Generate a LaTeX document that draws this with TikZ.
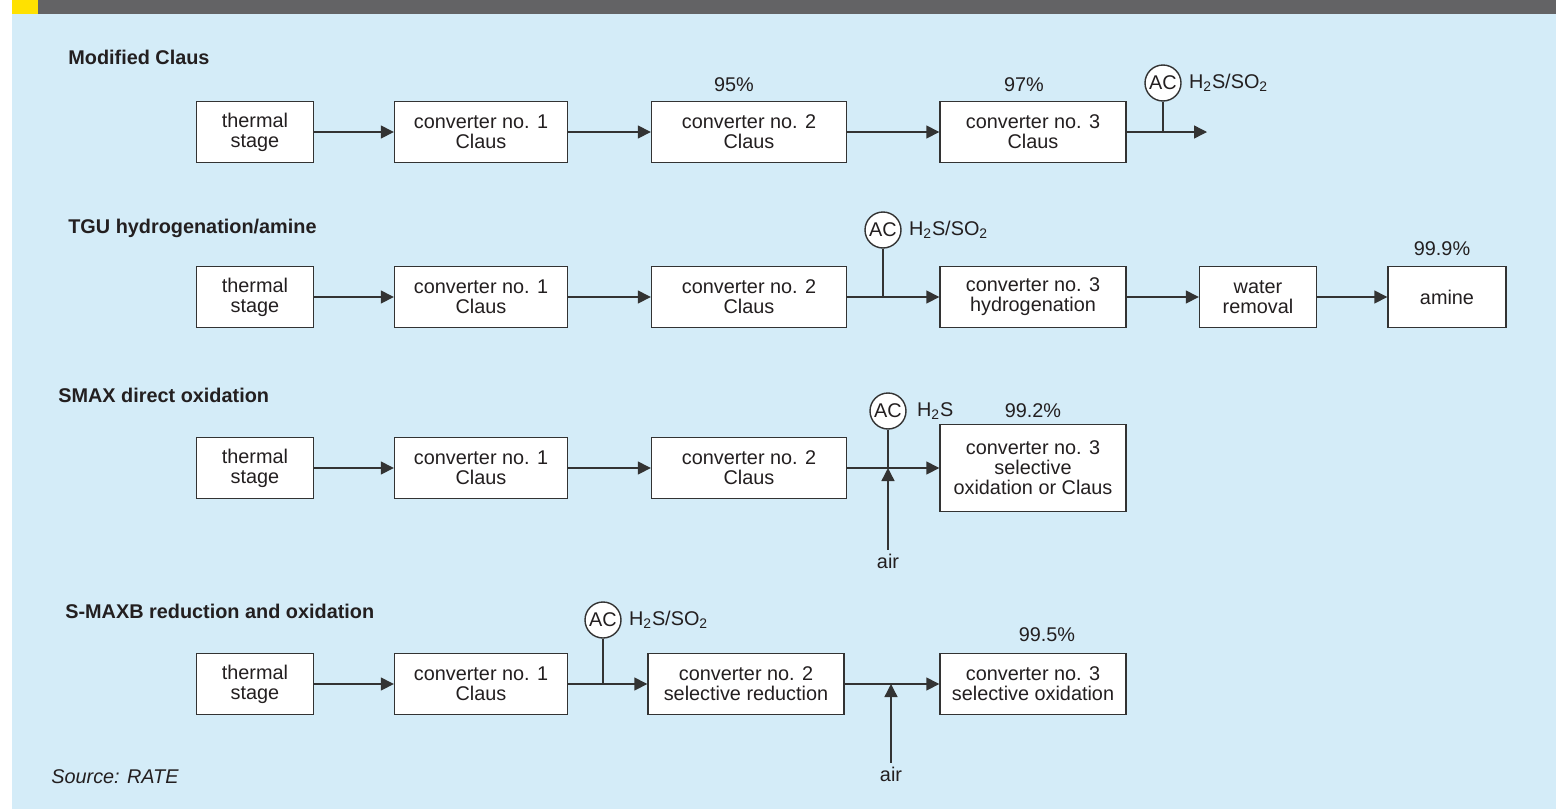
\documentclass[tikz,border=0pt]{standalone}
\usepackage{fontspec}
\setmainfont{Liberation Sans}
\usepackage{tikz}
\usetikzlibrary{arrows.meta,positioning}

\definecolor{bgblue}{HTML}{D4ECF8}
\definecolor{bargray}{HTML}{636365}
\definecolor{baryellow}{HTML}{FFE100}
\definecolor{linec}{HTML}{333333}
\definecolor{textc}{HTML}{231F20}

\newcommand{\boxfont}{\fontsize{11.3}{11.4}\selectfont}
\newcommand{\gas}[1]{H\textsubscript{2}S#1}

\tikzset{
	unit/.style={draw=linec, fill=white, line width=0.8pt, minimum width=#1,
		minimum height=1.22cm, inner sep=0pt, align=center, font=\boxfont, text=textc},
	ctl/.style={circle, draw=linec, fill=white, line width=0.8pt, minimum size=0.72cm,
		inner sep=0pt, font=\boxfont, text=textc},
	rate/.style={font=\boxfont, text=textc, inner sep=0pt},
	hdr/.style={font=\boxfont\bfseries, text=textc, anchor=west, inner sep=0pt},
	flow/.style={draw=linec, line width=0.8pt, -{Triangle[length=0.26cm,width=0.26cm]}},
	tap/.style={draw=linec, line width=0.8pt}
}

\begin{document}
\begin{tikzpicture}[x=0.02cm, y=-0.02cm]
		\useasboundingbox (0,0) rectangle (1556,809);
		\fill[white] (0,0) rectangle (1556,809);
		\fill[bgblue] (12,14) rectangle (1556,809);
		\fill[bargray] (38,0) rectangle (1556,14);
		\fill[baryellow] (12,0) rectangle (38,14);
	% modified Claus
		\node[hdr] (t1) at (68,57) {Modified Claus};
		\node[unit=2.34cm] (th1) at (255,132) {thermal\\stage};
		\node[unit=3.46cm] (cv11) at (481,132) {converter no. 1\\Claus};
		\node[unit=3.9cm] (cv12) at (749,132) {converter no. 2\\Claus};
		\node[unit=3.72cm] (cv13) at (1033,132) {converter no. 3\\Claus};
		\node[rate] (pc12) at (734,85) {95\%};
		\node[rate] (pc13) at (1024,85) {97\%};
		\node[ctl] (ac1) at (1163,83) {AC};
		\node[rate, right=0.14cm of ac1] (gas1) {\gas{/SO\textsubscript{2}}};
		\coordinate (out1) at (1207,132);
		\draw[flow] (th1) -- (cv11);
		\draw[flow] (cv11) -- (cv12);
		\draw[flow] (cv12) -- (cv13);
		\draw[flow] (cv13) -- (out1);
		\draw[tap] (ac1) -- (ac1 |- out1);
	% TGU hydrogenation/amine
		\node[hdr] (t2) at (68,228) {TGU hydrogenation/amine};
		\node[unit=2.34cm] (th2) at (255,297) {thermal\\stage};
		\node[unit=3.46cm] (cv21) at (481,297) {converter no. 1\\Claus};
		\node[unit=3.9cm] (cv22) at (749,297) {converter no. 2\\Claus};
		\node[unit=3.72cm] (cv23) at (1033,297) {converter no. 3\\hydrogenation};
		\node[unit=2.34cm] (wr2) at (1258,297) {water\\removal};
		\node[unit=2.36cm] (am2) at (1447,297) {amine};
		\node[rate] (pc25) at (1442,249) {99.9\%};
		\node[ctl] (ac2) at (883,230) {AC};
		\node[rate, right=0.14cm of ac2] (gas2) {\gas{/SO\textsubscript{2}}};
		\draw[flow] (th2) -- (cv21);
		\draw[flow] (cv21) -- (cv22);
		\draw[flow] (cv22) -- (cv23);
		\draw[flow] (cv23) -- (wr2);
		\draw[flow] (wr2) -- (am2);
		\draw[tap] (ac2) -- (ac2 |- cv23.west);
	% SMAX direct oxidation
		\node[hdr] (t3) at (58,395) {SMAX direct oxidation};
		\node[unit=2.34cm] (th3) at (255,468) {thermal\\stage};
		\node[unit=3.46cm] (cv31) at (481,468) {converter no. 1\\Claus};
		\node[unit=3.9cm] (cv32) at (749,468) {converter no. 2\\Claus};
		\node[unit=3.72cm, minimum height=1.74cm] (cv33) at (1033,468) {converter no. 3\\selective\\oxidation or Claus};
		\node[rate] (pc33) at (1033,411) {99.2\%};
		\node[ctl] (ac3) at (888,411) {AC};
		\node[rate, right=0.2cm of ac3] (gas3) {\gas{}};
		\node[rate, inner sep=2pt] (air3) at (888,561) {air};
		\draw[flow] (th3) -- (cv31);
		\draw[flow] (cv31) -- (cv32);
		\draw[flow] (cv32) -- (cv33);
		\draw[tap] (ac3) -- (ac3 |- cv33.west);
		\draw[flow] (air3) -- (air3 |- cv33.west);
	% S-MAXB reduction and oxidation
		\node[hdr] (t4) at (65,611) {S-MAXB reduction and oxidation};
		\node[unit=2.34cm] (th4) at (255,684) {thermal\\stage};
		\node[unit=3.46cm] (cv41) at (481,684) {converter no. 1\\Claus};
		\node[unit=3.92cm] (cv42) at (746,684) {converter no. 2\\selective reduction};
		\node[unit=3.72cm] (cv43) at (1033,684) {converter no. 3\\selective oxidation};
		\node[rate] (pc43) at (1047,635) {99.5\%};
		\node[ctl] (ac4) at (603,620) {AC};
		\node[rate, right=0.14cm of ac4] (gas4) {\gas{/SO\textsubscript{2}}};
		\node[rate, inner sep=2pt] (air4) at (891,774) {air};
		\draw[flow] (th4) -- (cv41);
		\draw[flow] (cv41) -- (cv42);
		\draw[flow] (cv42) -- (cv43);
		\draw[tap] (ac4) -- (ac4 |- cv42.west);
		\draw[flow] (air4) -- (air4 |- cv43.west);
		\node[rate, anchor=west, font=\boxfont\itshape] (src) at (51,777) {Source: RATE};
\end{tikzpicture}
\end{document}
